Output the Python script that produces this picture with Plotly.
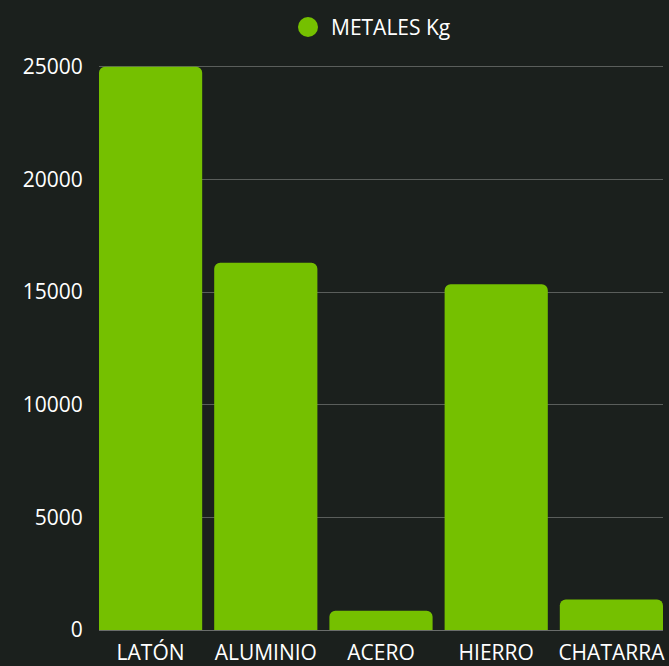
import plotly.graph_objects as go

categories = ["LATÓN", "ALUMINIO", "ACERO", "HIERRO", "CHATARRA"]
values = [25000, 16300, 850, 15350, 1350]
series_name = "METALES Kg"
y_ticks = [0, 5000, 10000, 15000, 20000, 25000]

W, H = 669, 666
L, R, T, B = 99, 6, 65, 36
green = "#75c000"
font_family = "Open Sans, Noto Sans, DejaVu Sans, sans-serif"

fig = go.Figure()
fig.add_trace(go.Bar(
    x=categories, y=values, name=series_name,
    marker=dict(color=green, cornerradius=6, line=dict(width=0)),
    showlegend=False,
))

bw = 0.8957
fig.update_layout(
    width=W, height=H,
    margin=dict(l=L, r=R, t=T, b=B, pad=0, autoexpand=False),
    paper_bgcolor="#1b201d",
    plot_bgcolor="rgba(0,0,0,0)",
    bargap=1 - bw,
    font=dict(family=font_family, color="white", size=21),
    xaxis=dict(
        range=[-0.5 + (1 - bw) / 2, len(categories) - 0.5 - (1 - bw) / 2],
        showgrid=False, zeroline=False,
        showline=False, automargin=False,
        ticks="outside", ticklen=4, tickcolor="rgba(0,0,0,0)",
        tickfont=dict(size=21, color="white"),
        fixedrange=True,
    ),
    yaxis=dict(
        range=[0, 25080],
        tickvals=y_ticks,
        ticktext=[str(v) for v in y_ticks],
        showgrid=True, gridcolor="rgba(255,255,255,0.28)", gridwidth=1,
        zeroline=True, zerolinecolor="rgba(255,255,255,0.35)", zerolinewidth=1,
        ticks="outside", ticklen=11, tickcolor="rgba(0,0,0,0)",
        tickfont=dict(size=21, color="white"),
        fixedrange=True, automargin=False,
    ),
)

# custom legend (circle marker + label)
plot_w = W - L - R
plot_h = H - T - B
cx = (308 - L) / plot_w
cy = (H - B - 27) / plot_h
fig.add_shape(type="circle", xref="paper", yref="paper",
              xsizemode="pixel", ysizemode="pixel",
              xanchor=cx, yanchor=cy, x0=-10, x1=10, y0=-10, y1=10,
              fillcolor=green, line=dict(width=0))
fig.add_annotation(xref="paper", yref="paper", x=(329 - L) / plot_w, y=cy,
                   xanchor="left", yanchor="middle", showarrow=False,
                   text=series_name, font=dict(size=21, color="white"))

fig.write_html("out.html", config={"displayModeBar": False},
               post_script="document.body.style.margin='0';document.body.style.overflow='hidden';document.body.style.background='#1b201d';")
